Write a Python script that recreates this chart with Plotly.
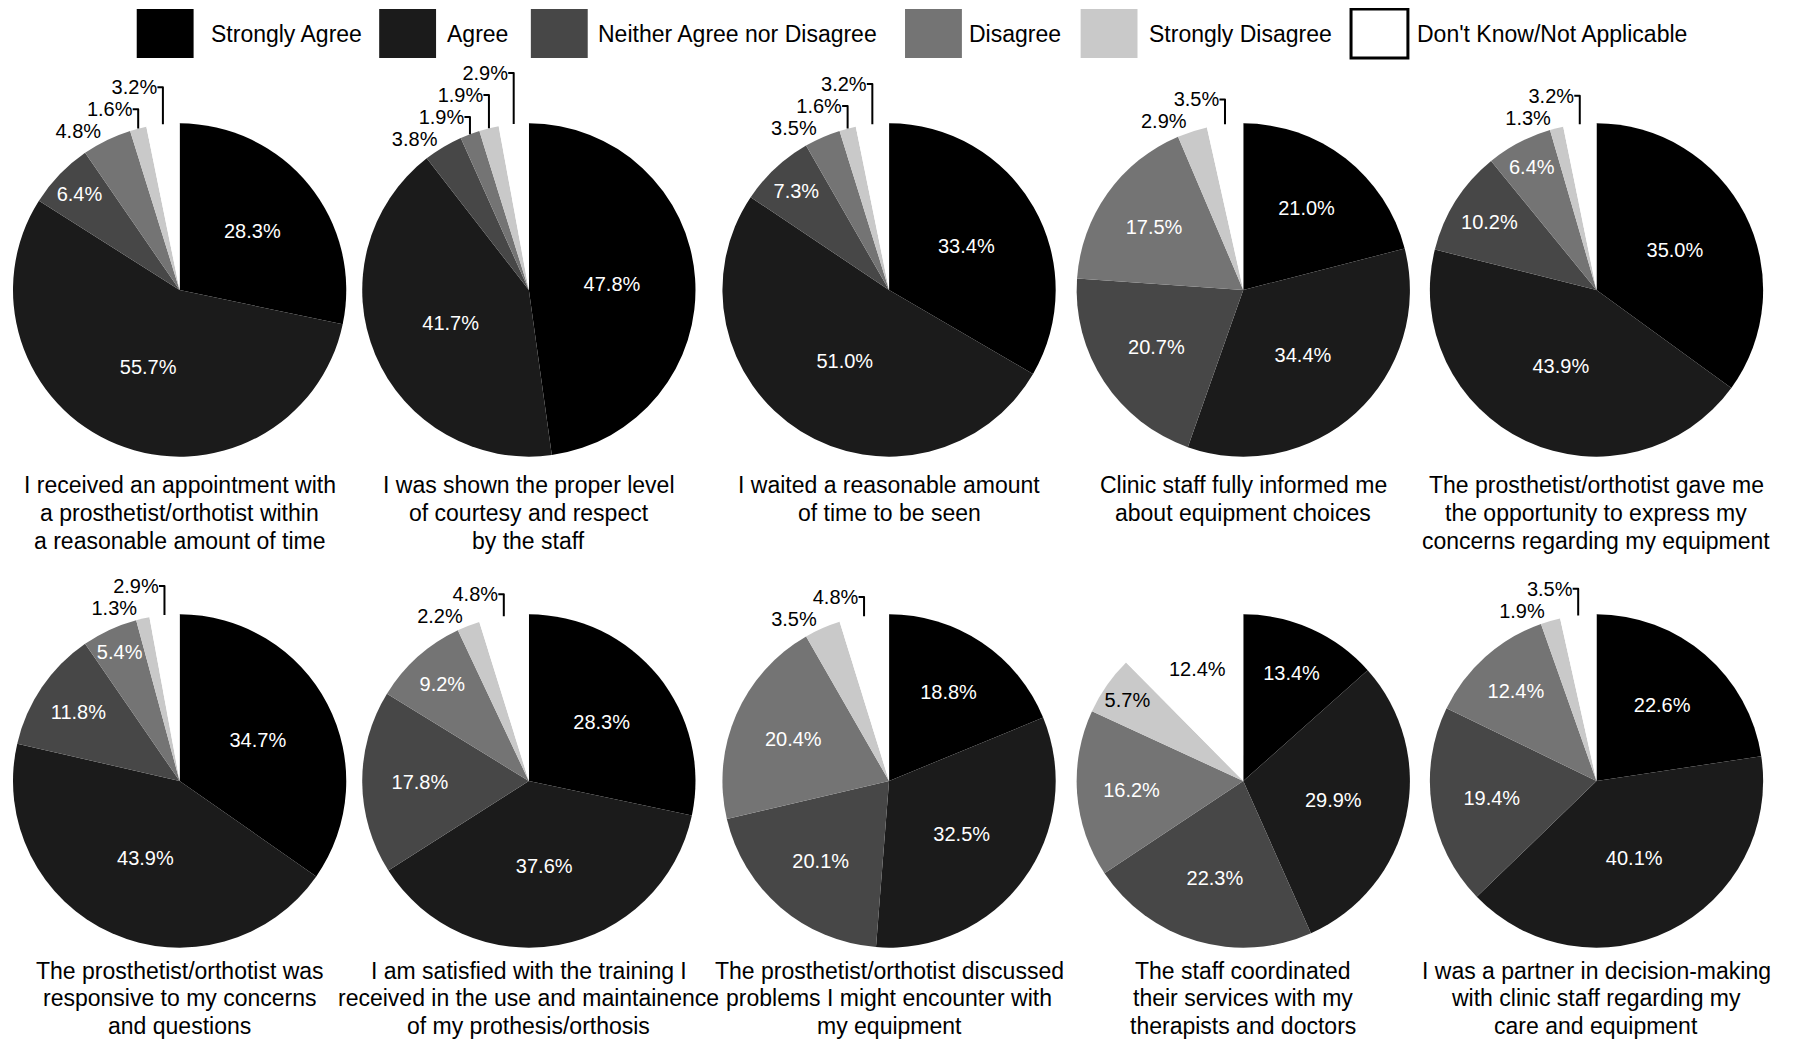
import plotly.graph_objects as go

# ---------------- data ----------------
categories = ["Strongly Agree", "Agree", "Neither Agree nor Disagree",
              "Disagree", "Strongly Disagree", "Don't Know/Not Applicable"]

questions = [
    "I received an appointment with<br>a prosthetist/orthotist within<br>a reasonable amount of time",
    "I was shown the proper level<br>of courtesy and respect<br>by the staff",
    "I waited a reasonable amount<br>of time to be seen",
    "Clinic staff fully informed me<br>about equipment choices",
    "The prosthetist/orthotist gave me<br>the opportunity to express my<br>concerns regarding my equipment",
    "The prosthetist/orthotist was<br>responsive to my concerns<br>and questions",
    "I am satisfied with the training I<br>received in the use and maintainence<br>of my prothesis/orthosis",
    "The prosthetist/orthotist discussed<br>problems I might encounter with<br>my equipment",
    "The staff coordinated<br>their services with my<br>therapists and doctors",
    "I was a partner in decision-making<br>with clinic staff regarding my<br>care and equipment",
]

q1_values = [28.3, 55.7, 6.4, 4.8, 1.6, 3.2]
q2_values = [47.8, 41.7, 3.8, 1.9, 1.9, 2.9]
q3_values = [33.4, 51.0, 7.3, 3.5, 1.6, 3.2]
q4_values = [21.0, 34.4, 20.7, 17.5, 2.9, 3.5]
q5_values = [35.0, 43.9, 10.2, 6.4, 1.3, 3.2]
q6_values = [34.7, 43.9, 11.8, 5.4, 1.3, 2.9]
q7_values = [28.3, 37.6, 17.8, 9.2, 2.2, 4.8]
q8_values = [18.8, 32.5, 20.1, 20.4, 3.5, 4.8]
q9_values = [13.4, 29.9, 22.3, 16.2, 5.7, 12.4]
q10_values = [22.6, 40.1, 19.4, 12.4, 1.9, 3.5]

all_values = [q1_values, q2_values, q3_values, q4_values, q5_values,
              q6_values, q7_values, q8_values, q9_values, q10_values]

# ---------------- styles / layout (window pixel coordinates) ----------------
WIN_W, WIN_H = 1820, 1048
OFF = 8                      # page body margin
W, H = WIN_W - OFF, WIN_H - OFF
colors = ["#000000", "#1b1b1b", "#474747", "#747474", "#c9c9c9", "#ffffff"]
inside_text_colors = ["white", "white", "white", "white", "black", "black"]
FONT = "Liberation Sans, Arial, Helvetica, sans-serif"

centers_x = [176, 526, 887, 1242, 1596]
centers_y = [290, 781]
R = 167
caption_line_y = [[485, 513, 541], [971, 998, 1026]]

legend_swatch_x = [133, 376, 528, 903, 1079, 1350]
legend_text_x = [205, 442, 593, 965, 1146, 1414]
legend_y0, legend_y1 = 9, 58
swatch_w = 57


def px(x):
    return min(max((x - OFF) / W, 0.0), 1.0)


def py(y):
    return min(max(1 - (y - OFF) / H, 0.0), 1.0)


fig = go.Figure()
annotations = []
shapes = []

for i, vals in enumerate(all_values):
    row, col = divmod(i, 5)
    cx, cy = centers_x[col], centers_y[row]
    positions = ["inside" if (v >= 5 or (k == 5 and v >= 10)) else "outside"
                 for k, v in enumerate(vals)]
    fig.add_trace(go.Pie(
        labels=categories,
        values=vals,
        sort=False,
        direction="clockwise",
        rotation=0,
        marker=dict(colors=colors, line=dict(width=0)),
        texttemplate="%{value:.1f}%",
        textposition=positions,
        insidetextorientation="horizontal",
        insidetextfont=dict(color=inside_text_colors, size=20, family=FONT),
        outsidetextfont=dict(color="black", size=20, family=FONT),
        hoverinfo="label+value",
        showlegend=False,
        domain=dict(x=[px(cx - R), px(cx + R)],
                    y=[py(cy + R), py(cy - R)]),
    ))
    for j, line in enumerate(questions[i].split("<br>")):
        annotations.append(dict(
            text=line, x=px(cx), y=py(caption_line_y[row][j]),
            xref="paper", yref="paper", xanchor="center", yanchor="middle",
            showarrow=False, align="center",
            font=dict(size=23, color="black", family=FONT),
        ))

# legend drawn as swatches + labels
for k, cat in enumerate(categories):
    x0 = legend_swatch_x[k]
    shapes.append(dict(
        type="rect", xref="paper", yref="paper",
        x0=px(x0), x1=px(x0 + swatch_w),
        y0=py(legend_y1), y1=py(legend_y0),
        fillcolor=colors[k],
        line=dict(color="black" if k == 5 else colors[k], width=3 if k == 5 else 0),
    ))
    annotations.append(dict(
        text=cat, x=px(legend_text_x[k]), y=py((legend_y0 + legend_y1) / 2),
        xref="paper", yref="paper", xanchor="left", yanchor="middle",
        showarrow=False, font=dict(size=23, color="black", family=FONT),
    ))

fig.update_layout(
    width=W, height=H,
    margin=dict(l=0, r=0, t=0, b=0),
    paper_bgcolor="white",
    plot_bgcolor="white",
    showlegend=False,
    uniformtext=dict(minsize=20, mode="show"),
    annotations=annotations,
    shapes=shapes,
    font=dict(family=FONT),
)

fig.write_html("out.html")
